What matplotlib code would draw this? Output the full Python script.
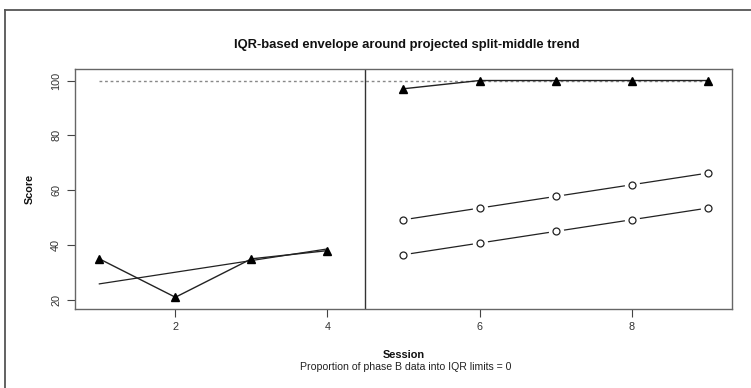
import matplotlib
matplotlib.use("Agg")
import matplotlib.pyplot as plt
from matplotlib.lines import Line2D

plt.rcParams['font.family'] = ['Liberation Sans', 'DejaVu Sans']

# Phase A (baseline) observations
sessions_a = [1, 2, 3, 4]
scores_a = [35, 21, 35, 38]

# Phase B (intervention) observations
sessions_b = [5, 6, 7, 8, 9]
scores_b = [97, 100, 100, 100, 100]

# Split-middle trend fitted on phase A
trend_x = [1, 4]
trend_y = [25.875, 38.625]

# IQR envelope projected into phase B
upper_env = [49.25, 53.5, 57.75, 62.0, 66.25]
lower_env = [36.5, 40.75, 45.0, 49.25, 53.5]

# Reference level and phase change
max_score = 100
phase_change = 4.5

x_ticks = [2, 4, 6, 8]
y_ticks = [20, 40, 60, 80, 100]

fig = plt.figure(figsize=(7.51, 3.88), dpi=100)
ax = fig.add_axes([75 / 751, 1 - 308.5 / 388, (732 - 75) / 751, (308.5 - 69) / 388])

line_col = '#222222'

# Dotted reference line at the maximum score
ax.plot([1, 9], [max_score, max_score], linestyle=(0, (2, 2)), color='#888888', lw=1.0, zorder=1)

# Phase change line
ax.axvline(phase_change, color='#333333', lw=1.0, zorder=1)

# Trend line in phase A
ax.plot(trend_x, trend_y, color=line_col, lw=0.9, zorder=2)

# Observed data
ax.plot(sessions_a, scores_a, color=line_col, lw=1.0, marker='^', ms=5.5, mfc='black', mec='black', zorder=3)
ax.plot(sessions_b, scores_b, color=line_col, lw=1.0, marker='^', ms=5.5, mfc='black', mec='black', zorder=3)

# Envelope lines drawn with gaps around the points
for env in (upper_env, lower_env):
    ax.plot(sessions_b, env, color=line_col, lw=0.9, zorder=2)
    ax.plot(sessions_b, env, linestyle='none', marker='o', ms=10, mfc='white', mec='white', zorder=3)
    ax.plot(sessions_b, env, linestyle='none', marker='o', ms=5, mfc='white', mec='#222222', mew=0.9, zorder=4)

ax.set_xlim(0.68, 9.32)
ax.set_ylim(16.9, 104.2)
ax.set_xticks(x_ticks)
ax.set_yticks(y_ticks)
ax.set_xticklabels([str(t) for t in x_ticks], fontsize=7.8, color='#333333')
ax.set_yticklabels([str(t) for t in y_ticks], fontsize=7.8, color='#333333', rotation=90, va='center')
ax.tick_params(axis='both', length=6, width=0.8, color='#444444', pad=4)

for s in ax.spines.values():
    s.set_color('#666666')
    s.set_linewidth(1.0)

fig.text(407 / 751, 1 - 45 / 388, 'IQR-based envelope around projected split-middle trend',
         ha='center', va='center', fontsize=9.4, fontweight='bold', color='#111111')
fig.text(30 / 751, 1 - 188.5 / 388, 'Score', rotation=90, ha='center', va='center',
         fontsize=7.8, fontweight='bold', color='#111111')
fig.text(403.5 / 751, 1 - 355 / 388, 'Session', ha='center', va='center',
         fontsize=7.9, fontweight='bold', color='#111111')
fig.text(406 / 751, 1 - 367 / 388, 'Proportion of phase B data into IQR limits = 0',
         ha='center', va='center', fontsize=7.6, color='#222222')

# Outer frame (top and left edges)
fig.add_artist(Line2D([4.5 / 751, 4.5 / 751], [0, 1 - 10 / 388], transform=fig.transFigure,
                      color='#555555', lw=1.3))
fig.add_artist(Line2D([4.5 / 751, 1], [1 - 10 / 388, 1 - 10 / 388], transform=fig.transFigure,
                      color='#555555', lw=1.3))

fig.savefig('out.png', dpi=100)
